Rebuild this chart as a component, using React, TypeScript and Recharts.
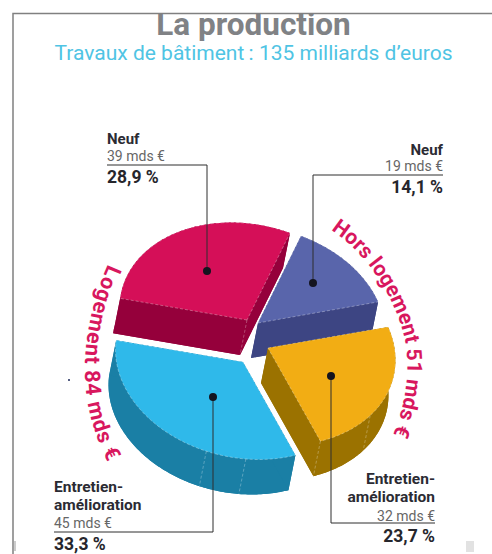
import { PieChart, Pie, Cell } from "recharts";

// clockwise from the top of the pie
const SEGMENTS = ["Neuf", "Entretien-amélioration", "Entretien-amélioration", "Neuf"];
const AMOUNTS = [19, 32, 45, 39];
const PERCENTS = ["14,1 %", "23,7 %", "33,3 %", "28,9 %"];

const TITLE = "La production";
const SUBTITLE = "Travaux de bâtiment\u2009: 135 milliards d’euros";
const GROUP_RIGHT = "Hors logement 51 mds €";
const GROUP_LEFT = "Logement 84 mds €";

const TOP_COLORS = ["#5965ab", "#f2ad14", "#2fb9ea", "#d50f58"];
const WALL_COLORS = ["#3d4583", "#9b7200", "#1a7fa5", "#95003b"];
const PINK = "#d8175e";
const FONT = "Roboto, sans-serif";

// tilted disc: where the 12 o'clock and 3 o'clock radii of the flat pie end up
const AXIS_A = { x: 43, y: -87 };
const AXIS_B = { x: 120, y: 44 };
const DEPTH = { x: -7, y: 35 };
const EXPLODE = [
  { x: 6, y: -15 },
  { x: 16, y: 10 },
  { x: -9, y: 24 },
  { x: -5, y: -18 },
];
const SEAMS = [[], [107, 136], [159, 177], [256]];

const CALLOUTS = [
  { x: 443, anchor: "end", labelY: 155, amountY: 171, valueY: 193, lines: "M443 175H313V283", dot: { x: 313, y: 283 } },
  { x: 435, anchor: "end", labelY: 484, amountY: 521, valueY: 542, lines: "M331 376V523H435", dot: { x: 331, y: 376 } },
  { x: 54, anchor: "start", labelY: 492, amountY: 528, valueY: 550, lines: "M213 397V532H54", dot: { x: 213, y: 397 } },
  { x: 107, anchor: "start", labelY: 144, amountY: 161, valueY: 183, lines: "M107 165H207V271", dot: { x: 207, y: 271 } },
];

const poly = (pts: { x: number; y: number }[]) =>
  "M" + pts.map((p) => `${p.x.toFixed(2)} ${p.y.toFixed(2)}`).join("L") + "Z";

function Callout({ i }: { i: number }) {
  const c = CALLOUTS[i];
  const label = SEGMENTS[i].includes("-") ? ["Entretien-", "amélioration"] : [SEGMENTS[i]];
  return (
    <g fontFamily={FONT} textAnchor={c.anchor}>
      <path d={c.lines} fill="none" stroke="#2e2e2e" strokeWidth={1} />
      <circle cx={c.dot.x} cy={c.dot.y} r={4} fill="#14141f" />
      {label.map((t, n) => (
        <text key={t} x={c.x} y={c.labelY + n * 18} fontSize={label.length > 1 ? 15.5 : 15} fontWeight={700} fill="#2b2b33">{t}</text>
      ))}
      <text x={c.x} y={c.amountY} fontSize={14} fill="#666">{AMOUNTS[i]} mds €</text>
      <text x={c.x} y={c.valueY} fontSize={17.5} fontWeight={700} fill="#26262c">{PERCENTS[i]}</text>
    </g>
  );
}

function Wedge(props: any) {
  const { cx, cy, startAngle, endAngle, index } = props;
  const i = index ?? AMOUNTS.indexOf(props.value);
  const off = EXPLODE[i];
  const at = (theta: number, k = 1, down = 0) => {
    const t = (theta * Math.PI) / 180;
    return {
      x: cx + off.x + k * (AXIS_A.x * Math.cos(t) + AXIS_B.x * Math.sin(t)) + down * DEPTH.x,
      y: cy + off.y + k * (AXIS_A.y * Math.cos(t) + AXIS_B.y * Math.sin(t)) + down * DEPTH.y,
    };
  };
  const from = 90 - startAngle;
  const to = 90 - endAngle;
  const steps = Math.ceil(to - from);
  const thetas = Array.from({ length: steps + 1 }, (_, n) => from + ((to - from) * n) / steps);
  const arc = thetas.map((t) => at(t));
  const arcLow = thetas.map((t) => at(t, 1, 1));
  const apex = at(0, 0);
  const apexLow = at(0, 0, 1);
  const wall = WALL_COLORS[i];
  const top = poly([apex, ...arc]);
  return (
    <g>
      <path d={poly([apexLow, ...arcLow])} fill={wall} />
      <path d={poly([...arc, ...[...arcLow].reverse()])} fill={wall} />
      <path d={poly([apex, arc[0], arcLow[0], apexLow])} fill={wall} />
      <path d={poly([apex, arc[steps], arcLow[steps], apexLow])} fill={wall} />
      <path d={top} fill={TOP_COLORS[i]} />
      <path d={top} fill="none" stroke="#fff" strokeOpacity={0.45} strokeWidth={0.7} strokeDasharray="3 2" />
      {SEAMS[i].map((s) => {
        const a = s === 256 ? apex : at(s);
        const b = s === 256 ? apexLow : at(s, 1, 1);
        return (
          <line key={s} x1={a.x} y1={a.y} x2={b.x} y2={b.y} stroke="#fff" strokeOpacity={0.4} strokeWidth={0.7} strokeDasharray="3 2" />
        );
      })}
      <Callout i={i} />
    </g>
  );
}

export default function App() {
  return (
    <div style={{ position: "absolute", left: 0, top: 0, width: 492, height: 554, background: "#fff", overflow: "hidden" }}>
      <PieChart width={492} height={554} margin={{ top: 0, right: 0, bottom: 0, left: 0 }}>
        <defs>
          <path id="arcRight" d="M331 230 C365 252 395 295 405 340 C411 370 405 410 390 442" />
          <path id="arcLeft" d="M108 264 C92 300 84 340 85 375 C86 405 93 435 112 470" />
        </defs>
        <text x={253.5} y={34.5} textAnchor="middle" fontFamily={FONT} fontSize={31.5} fontWeight={700} fill="#808285">{TITLE}</text>
        <rect x={0} y={0} width={492} height={13} fill="#fff" />
        <path d="M13 554V13.5H492" fill="none" stroke="#808080" strokeWidth={1.5} />
        <text x={253.5} y={60} textAnchor="middle" fontFamily={FONT} fontSize={21} fill="#4fc4e4">{SUBTITLE}</text>

        <text fontFamily={FONT} fontSize={21} fontWeight={700} fill={PINK}>
          <textPath href="#arcRight">{GROUP_RIGHT}</textPath>
        </text>
        <text fontFamily={FONT} fontSize={21.5} fontWeight={700} letterSpacing={0.8} fill={PINK}>
          <textPath href="#arcLeft">{GROUP_LEFT}</textPath>
        </text>

        <Pie
          data={AMOUNTS.map((value, i) => ({ name: SEGMENTS[i], value }))}
          dataKey="value"
          cx={252}
          cy={338}
          outerRadius={100}
          startAngle={90}
          endAngle={-270}
          stroke="none"
          shape={Wedge}
          isAnimationActive={false}
        >
          {AMOUNTS.map((_, i) => (
            <Cell key={i} fill={TOP_COLORS[i]} />
          ))}
        </Pie>

        <circle cx={69} cy={380} r={1} fill="#1c2a5a" />
        <rect x={466} y={541} width={8} height={11} fill="#e2e2e2" />
        <line x1={15} y1={541} x2={15} y2={551} stroke="#999" strokeWidth={1} />
      </PieChart>
    </div>
  );
}
